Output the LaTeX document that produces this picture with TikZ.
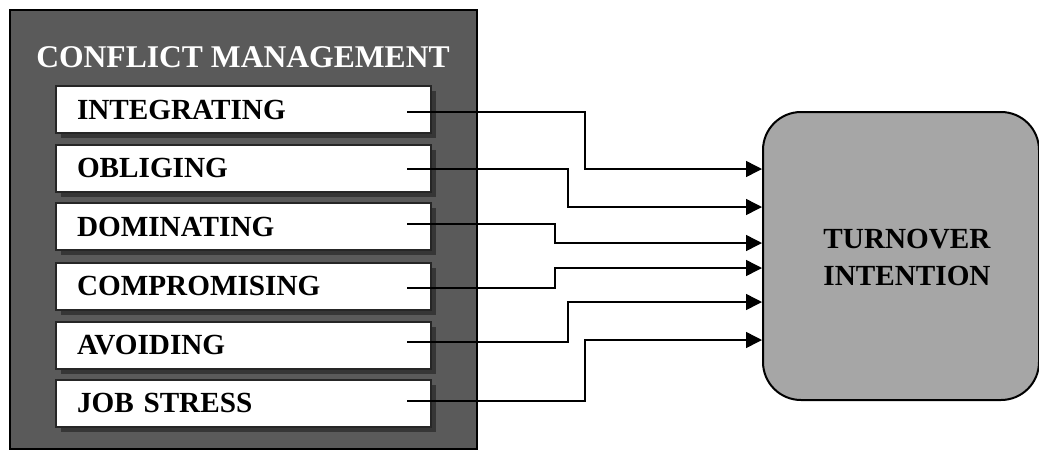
\documentclass[tikz,border=0pt]{standalone}
\usepackage{fontspec}
\setmainfont{Liberation Serif}
\usetikzlibrary{arrows.meta,shadows,calc}
\definecolor{outerfill}{HTML}{5A5A5A}
\definecolor{shadowc}{HTML}{363636}
\definecolor{turnfill}{HTML}{A6A6A6}
\tikzset{
  outerbox/.style={draw=black, line width=2pt, fill=outerfill, minimum width=467pt, minimum height=439pt, inner sep=0pt},
  itembox/.style={draw=black!85, line width=2pt, fill=white, minimum width=375pt, minimum height=47pt,
    text width=333pt, inner xsep=21pt, inner ysep=0pt, align=left,
    font=\fontsize{29.2}{34}\selectfont\bfseries,
    drop shadow={shadow xshift=5pt, shadow yshift=-5pt, fill=shadowc, opacity=1}},
  titlebox/.style={text=white, font=\fontsize{31.6}{36}\selectfont\bfseries, inner sep=0pt},
  turnbox/.style={draw=black, line width=2pt, fill=turnfill, rounded corners=38pt, minimum width=276pt, minimum height=288pt, inner sep=0pt},
  turntext/.style={align=center, font=\fontsize{29.2}{37}\selectfont\bfseries, inner sep=0pt},
  conn/.style={draw=black, line width=1.5pt, -{Triangle[length=16pt,width=16pt]}},
}
\begin{document}
\begin{tikzpicture}[x=1pt,y=-1pt]
\useasboundingbox (0,0) rectangle (1039,451);
\clip (0,0) rectangle (1039,451);
\node[outerbox] (cm) at (243.5,229.5) {};
\node[titlebox] (title) at (243,57) {CONFLICT MANAGEMENT};
\node[itembox] (b1) at (243.5,109.5) {INTEGRATING};
\node[itembox] (b2) at (243.5,168) {OBLIGING};
\node[itembox] (b3) at (243.5,226.5) {DOMINATING};
\node[itembox] (b4) at (243.5,286) {COMPROMISING};
\node[itembox] (b5) at (243.5,345) {AVOIDING};
\node[itembox] (b6) at (243.5,403) {JOB STRESS};
\node[turnbox] (turn) at (901,256) {};
\node[turntext] (tt) at (907,257) {TURNOVER\\INTENTION};
\coordinate (s1) at (407,112);
\coordinate (s2) at (407,169);
\coordinate (s3) at (407,224);
\coordinate (s4) at (407,288);
\coordinate (s5) at (407,342);
\coordinate (s6) at (407,401);
\coordinate (t1) at ([yshift=87pt]turn.west);
\coordinate (t2) at ([yshift=49pt]turn.west);
\coordinate (t3) at ([yshift=13pt]turn.west);
\coordinate (t4) at ([yshift=-12pt]turn.west);
\coordinate (t5) at ([yshift=-46pt]turn.west);
\coordinate (t6) at ([yshift=-84pt]turn.west);
\draw[conn] (s1) -| (585,0 |- t1) -- (t1);
\draw[conn] (s2) -| (568,0 |- t2) -- (t2);
\draw[conn] (s3) -| (555,0 |- t3) -- (t3);
\draw[conn] (s4) -| (555,0 |- t4) -- (t4);
\draw[conn] (s5) -| (568,0 |- t5) -- (t5);
\draw[conn] (s6) -| (585,0 |- t6) -- (t6);
\end{tikzpicture}
\end{document}
